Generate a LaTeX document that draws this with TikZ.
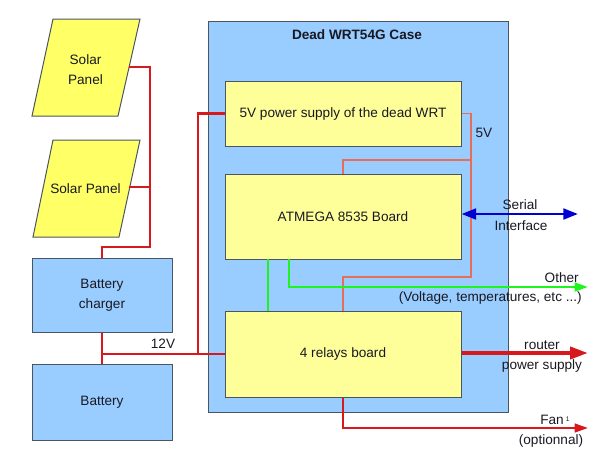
\documentclass[tikz,border=0pt]{standalone}
\usepackage{fontspec}
\setmainfont{Liberation Sans}
\usetikzlibrary{arrows.meta}
\definecolor{caseblue}{RGB}{153,204,255}
\definecolor{boxyellow}{RGB}{255,255,153}
\definecolor{panelyellow}{RGB}{255,255,102}
\definecolor{edgegray}{RGB}{75,85,95}
\definecolor{wirered}{RGB}{215,25,30}
\definecolor{wiresalmon}{RGB}{232,110,90}
\definecolor{wiregreen}{RGB}{30,245,30}
\definecolor{wireblue}{RGB}{0,0,210}
\definecolor{txt}{RGB}{25,25,35}
\begin{document}
\begin{tikzpicture}[x=0.75pt,y=-0.75pt,
  font=\fontsize{10.2}{15}\selectfont, text=txt,
  box/.style={draw=edgegray, line width=0.75pt, fill=boxyellow, inner sep=0pt, align=center},
  bluebox/.style={box, fill=caseblue},
  panel/.style={draw=edgegray, line width=0.75pt, fill=panelyellow},
  lbl/.style={inner sep=0pt, align=center},
  rw/.style={draw=wirered, line width=1.7pt},
  sw/.style={draw=wiresalmon, line width=1.4pt},
  gw/.style={draw=wiregreen, line width=2pt},
  bw/.style={draw=wireblue, line width=2.2pt, {Triangle[length=11pt,width=8pt]}-{Triangle[length=11pt,width=8pt]}},
  bigred/.style={draw=wirered, line width=3pt, -{Triangle[length=13.5pt,width=9pt]}},
  garrow/.style={gw, -{Triangle[length=10pt,width=6.5pt]}},
  fanarrow/.style={rw, -{Triangle[length=10pt,width=6.5pt]}}
]
\useasboundingbox (0,0) rectangle (600,450);

% case
\node[bluebox, minimum width=300*0.75pt, minimum height=391*0.75pt] (case) at (358,216.5) {};
\node[lbl, font=\fontsize{10.2}{15}\selectfont\bfseries] (casetitle) at (357,35) {Dead WRT54G Case};

% inner boards
\node[box, minimum width=236*0.75pt, minimum height=65*0.75pt] (psu) at (343,113.5) {5V power supply of the dead WRT};
\node[box, minimum width=236*0.75pt, minimum height=85*0.75pt] (atm) at (343,216.5) {ATMEGA 8535 Board};
\node[box, minimum width=236*0.75pt, minimum height=86*0.75pt] (rel) at (343,354) {4 relays board};

% battery side
\node[bluebox, minimum width=140*0.75pt, minimum height=74*0.75pt] (charger) at (102,295) {Battery\\charger};
\node[bluebox, minimum width=140*0.75pt, minimum height=76*0.75pt] (battery) at (102,402) {Battery};

% solar panels
\draw[panel] (53,19) -- (140,19) -- (118,116) -- (32,116) -- cycle;
\node[lbl] (sp1) at (85.5,70) {Solar\\Panel};
\coordinate (sp1e) at (129,67);
\draw[panel] (53,140) -- (140,140) -- (119,237) -- (33,237) -- cycle;
\node[lbl] (sp2) at (85.5,189) {Solar Panel};
\coordinate (sp2e) at (129,187);

% red supply wires
\coordinate (j1) at (150,247);
\draw[rw] (sp1e) -| (j1) -| (charger.north);
\draw[rw] (sp2e) -- (sp2e -| j1);
\draw[rw] (charger.south) -- (battery.north);
\coordinate (j12) at (102,354);
\coordinate (j2) at (198,354);
\draw[rw] (j12) -- (rel.west);
\draw[rw] (j2) |- (psu.west);
\node[lbl] (v12) at (163,344) {12V};

% salmon 5V wires
\coordinate (s1) at (471,277);
\coordinate (s2) at (471,160);
\draw[sw] (psu.east) -| (s1) -| (rel.north);
\draw[sw] (s2) -| (atm.north);
\node[lbl] (v5) at (484,133) {5V};

% green signals
\coordinate (g1) at (268,259);
\coordinate (g2) at (289,259);
\coordinate (otherend) at (588,287);
\draw[gw] (g1) -- (g1 |- rel.north);
\draw[garrow] (g2) |- (otherend);
\node[lbl, anchor=east] (other) at (579,278) {Other};
\node[lbl, anchor=east] (otherdesc) at (582,298) {(Voltage, temperatures, etc ...)};

% serial
\coordinate (serialend) at (578,214);
\draw[bw] (atm.east |- serialend) -- (serialend);
\node[lbl] (serial) at (520,205) {Serial};
\node[lbl] (iface) at (521,226) {Interface};

% router power
\coordinate (routerend) at (588,353);
\draw[bigred] (rel.east |- routerend) -- (routerend);
\node[lbl] (router) at (542,345) {router};
\node[lbl] (rps) at (542,366) {power supply};

% fan
\coordinate (fanend) at (588,428);
\draw[fanarrow] (rel.south) |- (fanend);
\node[lbl, anchor=west] (fan) at (540,420) {Fan\,\raisebox{0.5ex}{\fontsize{5}{6}\selectfont 1}};
\node[lbl] (opt) at (551,441) {(optionnal)};
\end{tikzpicture}
\end{document}
